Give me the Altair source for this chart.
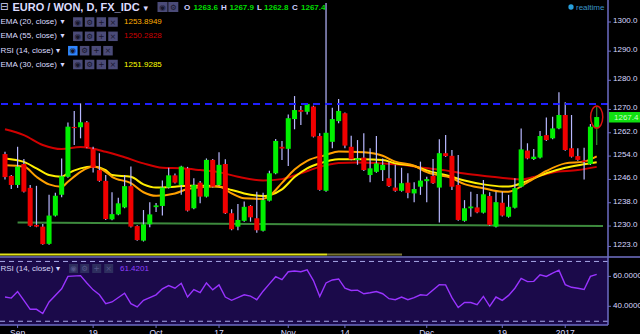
import altair as alt
import pandas as pd

# ---------------- data ----------------
opens = [1254.7, 1247.2, 1244.1, 1251.3, 1243.1, 1230.4, 1229.8, 1223.9, 1233.6, 1240.7,
         1246.9, 1264.0, 1263.9, 1265.6, 1256.4, 1249.2, 1245.5, 1232.3, 1234.0, 1236.4,
         1243.7, 1230.0, 1225.0, 1230.6, 1236.5, 1236.9, 1243.2, 1247.4, 1244.1, 1249.8,
         1236.1, 1244.9, 1240.1, 1252.7, 1244.1, 1251.3, 1234.4, 1229.8, 1231.8, 1236.9,
         1232.7, 1228.4, 1238.7, 1248.1, 1257.2, 1256.5, 1266.7, 1269.8, 1269.2, 1271.0,
         1260.9, 1242.1, 1258.9, 1266.0, 1268.7, 1257.2, 1252.7, 1253.5, 1247.5, 1248.6,
         1249.2, 1246.4, 1243.2, 1242.1, 1244.9, 1241.2, 1243.5, 1245.4, 1247.2, 1243.2,
         1255.0, 1254.1, 1244.1, 1231.8, 1236.1, 1236.4, 1234.6, 1240.3, 1229.8, 1238.0,
         1233.2, 1236.3, 1243.5, 1255.9, 1253.0, 1253.5, 1261.2, 1260.1, 1263.5, 1268.1,
         1256.7, 1254.0, 1252.5, 1251.3, 1263.6]
highs = [1255.5, 1247.5, 1257.2, 1253.0, 1244.1, 1243.8, 1230.7, 1240.7, 1241.4, 1253.2,
         1265.5, 1269.5, 1272.1, 1266.0, 1257.2, 1255.0, 1247.5, 1241.6, 1239.7, 1247.5,
         1250.4, 1230.3, 1235.5, 1238.2, 1237.9, 1245.6, 1250.0, 1248.0, 1250.7, 1250.3,
         1246.4, 1245.5, 1253.2, 1253.0, 1255.3, 1252.9, 1235.8, 1237.6, 1238.4, 1237.2,
         1241.8, 1241.4, 1249.0, 1259.9, 1259.2, 1268.3, 1274.6, 1271.2, 1272.1, 1271.3,
         1261.8, 1306.5, 1270.6, 1273.6, 1269.0, 1261.0, 1259.5, 1261.8, 1256.7, 1260.9,
         1253.2, 1252.1, 1251.0, 1250.0, 1248.1, 1245.0, 1252.1, 1246.9, 1253.0, 1259.8,
         1261.2, 1256.1, 1254.4, 1238.9, 1241.8, 1241.0, 1245.8, 1241.6, 1241.8, 1241.8,
         1240.7, 1246.4, 1263.5, 1258.4, 1256.4, 1262.6, 1267.2, 1267.5, 1275.9, 1272.5,
         1268.1, 1256.7, 1256.9, 1265.0, 1271.0]
lows = [1246.0, 1242.7, 1243.1, 1241.5, 1229.8, 1229.6, 1223.6, 1223.6, 1233.3, 1239.9,
        1246.6, 1257.8, 1260.1, 1256.7, 1248.4, 1245.2, 1232.1, 1232.0, 1233.7, 1236.1,
        1229.5, 1225.0, 1224.7, 1229.6, 1234.8, 1233.6, 1242.9, 1244.6, 1240.7, 1235.0,
        1235.8, 1237.8, 1239.8, 1243.2, 1243.8, 1234.1, 1228.6, 1228.6, 1231.5, 1231.5,
        1227.7, 1228.1, 1238.4, 1247.8, 1252.7, 1250.6, 1263.2, 1264.7, 1268.3, 1260.4,
        1242.1, 1241.8, 1256.7, 1265.3, 1256.7, 1252.6, 1251.0, 1248.9, 1245.0, 1248.3,
        1245.5, 1243.4, 1241.8, 1241.8, 1239.5, 1238.2, 1240.7, 1238.2, 1244.4, 1231.2,
        1253.7, 1242.4, 1231.8, 1231.5, 1233.2, 1234.4, 1234.3, 1230.1, 1229.5, 1233.3,
        1232.9, 1236.0, 1243.2, 1252.9, 1252.7, 1253.2, 1259.2, 1259.8, 1263.2, 1255.8,
        1253.5, 1252.4, 1246.0, 1251.0, 1257.8]
closes = [1246.8, 1244.1, 1250.4, 1241.8, 1230.1, 1229.8, 1223.8, 1233.6, 1240.4, 1247.1,
          1264.1, 1263.6, 1265.6, 1257.0, 1250.0, 1245.5, 1232.4, 1234.1, 1237.8, 1243.7,
          1229.8, 1225.2, 1230.6, 1234.0, 1237.1, 1243.2, 1247.4, 1244.9, 1250.4, 1235.3,
          1244.1, 1240.1, 1252.7, 1243.5, 1251.0, 1234.4, 1228.9, 1232.1, 1236.6, 1233.0,
          1228.6, 1238.9, 1248.1, 1259.2, 1256.6, 1267.0, 1269.8, 1269.2, 1271.9, 1260.7,
          1242.4, 1262.0, 1266.7, 1269.5, 1257.6, 1252.9, 1253.2, 1249.2, 1249.8, 1251.5,
          1251.0, 1243.7, 1242.1, 1244.7, 1241.4, 1242.7, 1245.6, 1246.1, 1244.7, 1255.0,
          1254.0, 1243.5, 1232.1, 1236.1, 1236.7, 1234.7, 1240.9, 1230.4, 1238.2, 1233.6,
          1236.6, 1243.0, 1256.3, 1253.2, 1253.8, 1260.9, 1259.5, 1263.5, 1268.1, 1256.1,
          1253.8, 1252.7, 1252.0, 1264.1, 1267.4]

ema20_days = [0, 3, 5, 7, 9, 10, 12, 14, 16, 17, 20, 22, 24, 27, 29, 32, 34, 36, 38, 41, 42,
              44, 46, 48, 51, 53, 57, 60, 62, 65, 67, 71, 73, 76, 79, 80, 83, 86, 89, 92, 94]
ema20_vals = [1250.9, 1250.4, 1246.9, 1244.3, 1243.5, 1245.2, 1248.6, 1250.4, 1248.6, 1246.9,
              1244.7, 1241.6, 1240.4, 1241.2, 1242.7, 1243.5, 1243.7, 1241.2, 1239.5, 1239.3,
              1240.3, 1244.8, 1249.4, 1252.4, 1254.4, 1255.6, 1255.3, 1254.1, 1252.1, 1250.7,
              1248.5, 1246.4, 1244.4, 1243.0, 1241.8, 1241.8, 1245.0, 1248.9, 1251.5, 1252.1,
              1253.9]
ema30_days = [0, 3, 5, 7, 9, 10, 12, 14, 16, 17, 20, 22, 24, 27, 29, 32, 34, 36, 38, 41, 42,
              44, 46, 48, 50, 53, 57, 60, 62, 65, 67, 71, 73, 76, 79, 80, 83, 86, 89, 92, 94]
ema30_vals = [1253.2, 1252.0, 1249.8, 1247.5, 1246.9, 1248.1, 1249.8, 1250.4, 1249.2, 1247.5,
              1246.9, 1244.3, 1243.2, 1243.5, 1243.8, 1243.8, 1243.5, 1242.4, 1241.2, 1240.3,
              1240.6, 1242.6, 1246.8, 1249.8, 1251.5, 1252.9, 1252.9, 1252.7, 1251.5, 1250.6,
              1249.1, 1246.9, 1245.6, 1244.3, 1243.6, 1243.6, 1245.5, 1248.1, 1250.0, 1251.2,
              1251.9]
ema55_days = [0, 3, 6, 9, 12, 16, 19, 22, 25, 28, 31, 34, 37, 41, 44, 47, 50, 53, 56, 60, 63,
              66, 70, 73, 77, 80, 82, 84, 87, 91, 94]
ema55_vals = [1263.2, 1261.2, 1257.8, 1256.4, 1257.1, 1255.5, 1253.6, 1251.5, 1250.0, 1249.8,
              1249.2, 1248.5, 1246.9, 1245.6, 1246.1, 1248.1, 1250.3, 1251.6, 1251.8, 1251.5,
              1251.0, 1250.1, 1249.1, 1248.0, 1247.0, 1246.3, 1246.0, 1246.8, 1248.4, 1249.2,
              1250.3]

rsi_days = [0, 1, 2, 3, 4, 5, 6, 7, 9, 10, 12, 13, 14, 15, 16, 17, 19, 20, 21, 22, 24, 25, 26,
            27, 28, 29, 30, 31, 32, 33, 34, 35, 36, 38, 39, 40, 41, 42, 43, 44, 45, 46, 47, 48,
            49, 50, 51, 52, 53, 54, 55, 56, 57, 58, 59, 60, 61, 62, 63, 64, 65, 66, 67, 69, 70,
            71, 72, 73, 74, 75, 76, 77, 78, 79, 80, 81, 82, 83, 84, 85, 86, 87, 88, 89, 90, 91,
            92, 93, 94]
rsi_vals = [46.2, 45.5, 49.9, 44.0, 38.0, 38.0, 35.2, 42.9, 51.7, 60.0, 60.5, 55.6, 51.0, 47.7,
            41.8, 42.9, 48.8, 41.8, 39.6, 44.0, 47.7, 51.7, 53.9, 52.1, 55.4, 46.2, 51.2, 49.1,
            55.6, 51.0, 54.3, 46.2, 44.0, 47.7, 46.8, 44.4, 50.1, 55.0, 59.8, 57.8, 63.1, 63.6,
            63.1, 64.4, 57.2, 46.6, 55.6, 57.6, 58.3, 52.1, 50.6, 50.8, 48.4, 49.1, 49.9, 48.4,
            45.1, 44.4, 46.2, 44.4, 45.8, 47.7, 47.3, 54.5, 54.3, 45.8, 39.2, 42.5, 42.5, 41.1,
            46.6, 40.0, 46.2, 44.0, 47.3, 52.1, 58.7, 56.5, 56.7, 61.1, 60.0, 62.2, 64.2, 54.5,
            52.7, 52.1, 51.2, 60.0, 61.4]

tick_days = [2, 14, 24, 34, 45, 54, 67, 79, 89]
tick_labels = ["Sep", "19", "Oct", "17", "Nov", "14", "Dec", "19", "2017"]
price_ticks = [1223, 1230, 1238, 1246, 1254, 1262, 1270, 1280, 1290, 1300]
rsi_ticks = [40, 60]
rsi_bands = [70, 30]
resistance_level = [1271.9]
trend_days = [2, 95]
trend_vals = [1231.2, 1230.0]

title_text = "EURO / WON, D, FX_IDC"
ohlc_letters = ["O", "H", "L", "C"]
ohlc_values = ["1263.6", "1267.9", "1262.8", "1267.4"]
indicator_names = ["EMA (20, close)", "EMA (55, close)", "RSI (14, close)", "EMA (30, close)"]
indicator_values = ["1253.8949", "1250.2828", "", "1251.9285"]
rsi_value_text = "61.4201"
last_price_text = "1267.4"

# ---------------- frames ----------------
n = len(closes)
candles = pd.DataFrame({"day": list(range(n)), "open": opens, "high": highs,
                        "low": lows, "close": closes})
ema20 = pd.DataFrame({"day": ema20_days, "v": ema20_vals})
ema30 = pd.DataFrame({"day": ema30_days, "v": ema30_vals})
ema55 = pd.DataFrame({"day": ema55_days, "v": ema55_vals})
rsi = pd.DataFrame({"day": rsi_days, "v": rsi_vals})
trend = pd.DataFrame({"day": trend_days, "v": trend_vals})
res = pd.DataFrame({"v": resistance_level})
bands = pd.DataFrame({"v": rsi_bands})
pticks = pd.DataFrame({"v": price_ticks})
rticks = pd.DataFrame({"v": rsi_ticks})
xticks = pd.DataFrame({"day": tick_days, "label": tick_labels})
last = candles.iloc[[n - 1]]

W, H = 608, 325
FONT = "Liberation Sans"
SYM = "DejaVu Sans"
AXC = "#6c6cc4"
LBL = "#d8d8ff"

xscale = alt.Scale(domain=[0, 95], nice=False, zero=False)
pscale = alt.Scale(domain=[1219.73, 1307.55], range=[256, 0], nice=False, zero=False)
rscale = alt.Scale(domain=[27.5, 72.3], range=[325, 258], nice=False, zero=False)

Xn = alt.X("day:Q", scale=xscale, axis=None)
Yp = lambda f: alt.Y(f, scale=pscale, axis=None)
Yr = lambda f: alt.Y(f, scale=rscale, axis=None)

# ---------------- price panel ----------------
wicks = alt.Chart(candles).mark_rule(strokeWidth=1.2, clip=True).encode(
    x=Xn, y=Yp("low:Q"), y2="high:Q",
    color=alt.condition("datum.day == %d" % (n - 1), alt.value("#2f8f2f"), alt.value("#b8b8ff")),
)
bodies = alt.Chart(candles).mark_bar(width=5, clip=True).encode(
    x=Xn, y=Yp("open:Q"), y2="close:Q",
    color=alt.condition("datum.close >= datum.open", alt.value("#00f000"), alt.value("#f00000")),
)

def ema_line(df, color):
    return alt.Chart(df).mark_line(interpolate="monotone", strokeWidth=2, color=color,
                                   clip=True).encode(x=Xn, y=Yp("v:Q"))

red_ema = ema_line(ema55, "#d00000")
yel_ema = ema_line(ema30, "#ffee00")
org_ema = ema_line(ema20, "#ffa000")

res_line = alt.Chart(res).mark_rule(color="#2020ff", strokeWidth=2, strokeDash=[7, 5]).encode(
    y=Yp("v:Q"))
trend_line = alt.Chart(trend).mark_line(color="#3d8a3d", strokeWidth=2, clip=True).encode(
    x=Xn, y=Yp("v:Q"))

ellipse = alt.Chart(last).mark_point(
    shape="M0,-1A0.55,1 0 1,1 0,1A0.55,1 0 1,1 0,-1Z", size=484, filled=False,
    stroke="#dd1111", strokeWidth=1.5, opacity=1).encode(x=Xn, y=Yp("close:Q"))

p_tick_marks = alt.Chart(pticks).mark_rule(color=AXC, strokeWidth=1).encode(
    x=alt.value(W), x2=alt.value(W + 3), y=Yp("v:Q"))
p_tick_labels = alt.Chart(pticks).mark_text(color=LBL, font=FONT, fontSize=8, align="left",
                                            baseline="middle", dy=-1).encode(
    x=alt.value(W + 5), y=Yp("v:Q"), text=alt.Text("v:Q", format=".1f"))

price_group = alt.layer(trend_line, red_ema, yel_ema, org_ema, wicks, bodies, res_line,
                        ellipse, p_tick_marks, p_tick_labels)

# ---------------- RSI panel ----------------
band_lines = alt.Chart(bands).mark_rule(color="#a8a8e8", strokeWidth=1, strokeDash=[5, 4]).encode(
    y=Yr("v:Q"))
rsi_line = alt.Chart(rsi).mark_line(color="#9933ff", strokeWidth=1.4, clip=True).encode(
    x=Xn, y=Yr("v:Q"))
r_tick_marks = alt.Chart(rticks).mark_rule(color=AXC, strokeWidth=1).encode(
    x=alt.value(W), x2=alt.value(W + 3), y=Yr("v:Q"))
r_tick_labels = alt.Chart(rticks).mark_text(color=LBL, font=FONT, fontSize=8, align="left",
                                            baseline="middle").encode(
    x=alt.value(W + 5), y=Yr("v:Q"), text=alt.Text("v:Q", format=".4f"))
rsi_group = alt.layer(band_lines, rsi_line, r_tick_marks, r_tick_labels)

# ---------------- x axis ----------------
x_tick_marks = alt.Chart(xticks).mark_rule(color=AXC, strokeWidth=1).encode(
    x=Xn, y=alt.value(H), y2=alt.value(H + 3))
x_tick_labels = alt.Chart(xticks).mark_text(color=LBL, font=FONT, fontSize=8.5, align="center",
                                            baseline="top").encode(
    x=Xn, y=alt.value(H + 3.5), text="label:N")

# ---------------- decorations (chrome / legend) ----------------
one = pd.DataFrame({"k": [0]})

def rect(x1, x2, y1, y2, color):
    return alt.Chart(one).mark_rect(color=color).encode(
        x=alt.value(x1), x2=alt.value(x2), y=alt.value(y1), y2=alt.value(y2))

def hline(x1, x2, y, color, w):
    return alt.Chart(one).mark_rule(color=color, strokeWidth=w).encode(
        x=alt.value(x1), x2=alt.value(x2), y=alt.value(y))

def vline(x, y1, y2, color, w):
    return alt.Chart(one).mark_rule(color=color, strokeWidth=w).encode(
        x=alt.value(x), y=alt.value(y1), y2=alt.value(y2))

def txt(s, x, y, color, size=8, weight="normal", font=FONT, align="left"):
    return alt.Chart(one).mark_text(text=s, color=color, fontSize=size, fontWeight=weight,
                                    font=font, align=align, baseline="middle").encode(
        x=alt.value(x), y=alt.value(y))

def button(cx, cy, glyph, fill, gcol, s=9.5):
    sq = alt.Chart(one).mark_square(size=s * s, color=fill, opacity=1, filled=True).encode(
        x=alt.value(cx), y=alt.value(cy))
    g = txt(glyph, cx, cy + 0.5, gcol, size=7.5, font=SYM, align="center")
    return [sq, g]

decor = []
decor.append(hline(0, 327, 254.5, "#e2e21a", 2))
decor.append(hline(327, 402, 254.5, "#7a7632", 2))
decor.append(hline(0, 640, 257, "#7272c8", 1.5))
decor.append(vline(W, 0, H, AXC, 1.5))
decor.append(hline(0, W, H, AXC, 1.5))

# title row
decor.append(txt("\u229f", 0, 7, LBL, size=10, font=SYM))
decor.append(txt(title_text, 12.5, 7.5, "#dcdcff", size=11, weight="bold"))
decor.append(txt("\u25be", 143.5, 7.5, LBL, size=9, font=SYM))
for cx, g in zip([162.5, 173.3], ["\u25c9", "\u2699"]):
    decor += button(cx, 7, g, "#4b4b78", "#15152a", s=10)
ox = [184, 221, 257, 292]
vx = [193.5, 229.5, 264, 301]
for L, V, a, b in zip(ohlc_letters, ohlc_values, ox, vx):
    decor.append(txt(L, a, 7.5, "#d0d0ff", size=8, weight="bold"))
    decor.append(txt(V, b, 7.5, "#00dd00", size=8, weight="bold"))

# indicator rows
row_y = [22, 36.3, 50.7, 64.5]
val_colors = ["#ffae00", "#cc0000", "", "#ffff00"]
for k, (name, val, yy, vc) in enumerate(zip(indicator_names, indicator_values, row_y, val_colors)):
    decor.append(txt(name, 0.5, yy, "#dcdcff", size=8))
    if k == 2:
        decor.append(txt("\u25be", 56, yy, LBL, size=8, font=SYM))
        xs = [72.8, 84.6, 96.3, 108.0]
    else:
        decor.append(txt("\u25be", 60.5, yy, LBL, size=8, font=SYM))
        xs = [77.8, 89.6, 101.3, 113.0]
    for j, (cx, g) in enumerate(zip(xs, ["\u25c9", "\u2699", "+", "\u00d7"])):
        fill = "#2f86ff" if (k == 2 and j == 0) else "#4b4b78"
        decor += button(cx, yy, g, fill, "#15152a")
    if val:
        decor.append(txt(val, 124, yy, vc, size=8))

# realtime
decor.append(alt.Chart(one).mark_circle(size=28, color="#28a0dc", opacity=1).encode(
    x=alt.value(571), y=alt.value(7)))
decor.append(txt("realtime", 576, 7.5, "#3a96c8", size=8))

# RSI panel legend
decor.append(txt(indicator_names[2], 0.5, 268.5, "#d4d4f4", size=8))
decor.append(txt("\u25be", 56, 268.5, LBL, size=8, font=SYM))
for cx, g in zip([73.5, 84.7, 96.7, 108.7], ["\u25c9", "\u2699", "+", "\u00d7"]):
    decor += button(cx, 268.5, g, "#2e2e5e", "#56568a", s=9)
decor.append(txt(rsi_value_text, 120, 268.5, "#9040ff", size=8))

# last price tag
decor.append(rect(609, 640, 112, 122.5, "#10e010"))
decor.append(txt(last_price_text, 614, 117.5, "#c8ffc8", size=8))

rsi_bg = rect(0, W, 258, 325, "#1b0a4a")

chart = alt.layer(rsi_bg, price_group, rsi_group, x_tick_marks, x_tick_labels, *decor).resolve_scale(
    y="independent"
).properties(
    width=W, height=H,
    autosize=alt.AutoSizeParams(type="none"),
    padding={"left": 0, "top": 0, "right": 32, "bottom": 9},
    background="#000000",
).configure_view(strokeWidth=0)

chart.save("out.html", embed_options={"renderer": "svg", "actions": False})
